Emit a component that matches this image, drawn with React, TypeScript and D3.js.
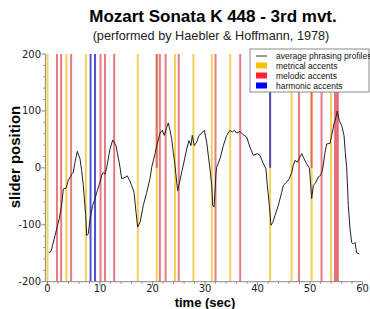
import React from "react";
import * as d3 from "d3";

const profileT = [0.23,0.67,1.43,2.25,2.76,3.01,3.52,3.96,4.61,4.91,5.24,5.68,6.19,6.51,6.82,7.28,7.47,7.77,8.10,8.61,9.05,9.49,10.0,10.32,10.63,10.95,11.28,11.90,12.42,13.05,13.30,13.81,14.13,14.76,15.20,15.58,16.04,16.48,16.86,17.18,17.62,18.25,18.90,19.52,19.85,20.48,20.80,21.43,21.87,22.25,22.70,23.01,23.33,23.66,23.96,24.29,24.61,24.80,25.10,25.43,25.87,26.51,26.95,27.33,27.58,27.96,28.42,28.86,29.37,29.87,30.32,30.63,30.95,31.28,31.47,31.71,31.90,32.10,32.23,32.86,33.49,34.13,34.76,35.20,35.58,36.04,36.67,37.30,37.94,38.57,39.20,39.96,40.48,40.99,41.62,41.87,42.25,42.57,42.90,43.33,43.96,44.61,44.91,45.56,46.06,46.51,46.82,47.14,47.58,48.10,48.42,48.86,49.37,49.87,50.0,50.32,50.63,51.14,51.58,52.04,52.42,52.86,53.18,53.81,54.13,54.57,54.95,55.20,55.58,56.04,56.48,56.72,56.99,57.30,57.62,57.94,58.25,58.57,58.88,59.39];
const profileV = [-149,-147,-119,-89,-60,-37,-36,-22,-11,-8,10,29,16,-5,-31,-84,-119,-116,-90,-66,-54,-40,-25,-13,-8,-11,1,33,49,39,27,1,-19,-17,-14,-21,-31,-43,-78,-104,-96,-66,-43,-19,1,25,38,61,66,57,71,79,66,51,27,4,-25,-40,-28,-13,5,33,48,39,57,39,45,57,61,66,45,22,-2,-31,-66,-69,-43,-8,1,16,39,57,66,63,66,61,64,58,54,36,22,25,22,10,-2,-31,-66,-101,-96,-84,-66,-43,-31,-25,-19,-8,4,13,10,19,25,16,7,0,-13,-54,-31,-25,-16,-13,-2,27,42,43,57,77,89,100,83,74,57,27,0,-66,-107,-131,-134,-131,-149,-151];

const metricalT = [0.0,3.6,7.3,17.2,20.8,24.3,27.8,31.3,34.8,42.4,46.5,50.3,54.0];
const melodicT = [1.8,2.6,4.5,10.1,10.95,12.7,20.8,21.4,22.5,25.0,32.0,36.7,47.9,50.3,52.2,54.75,55.05,55.3];
const harmonicT = [8.2,9.05,42.4];

const xTicks = [0,10,20,30,40,50,60];
const yTicks = [-200,-100,0,100,200];

const legendItems = ["average phrasing profiles","metrical accents","melodic accents","harmonic accents"];

export default function App() {
  const x = d3.scaleLinear().domain([-0.4, 60]).range([45.4, 362.5]);
  const y = d3.scaleLinear().domain([-200, 200]).range([281.7, 54]);
  const line = d3.line<number>().x((_, i) => x(profileT[i])).y((v) => y(v));
  const near = (a: number[], t: number) => a.some((m) => Math.abs(m - t) < 0.05);
  const xMinor = d3.range(0, 61, 2);
  const yMinor = d3.range(-200, 201, 20);
  const axisColor = "#8a8a8a";
  const yellow = "#f0cd45";
  const red = "#e03a48";
  const blue = "#3535c8";
  return (
    <svg width={370} height={309} style={{ position: "absolute", left: 0, top: 0, background: "#fff" }}>
      <text x={213} y={22} textAnchor="middle" fontFamily="Liberation Sans, Arial, sans-serif" fontWeight="bold" fontSize={17}>Mozart Sonata K 448 - 3rd mvt.</text>
      <text x={211} y={40} textAnchor="middle" fontFamily="Liberation Sans, Arial, sans-serif" fontSize={12.7} fill="#222">(performed by Haebler &amp; Hoffmann, 1978)</text>

      {metricalT.map((t, i) => (
        <line key={"m" + i} x1={x(t)} x2={x(t)} y1={y(200)} y2={y(-200)} stroke={yellow} strokeWidth={2} opacity={0.9} />
      ))}
      {melodicT.map((t, i) => (
        <line key={"r" + i} x1={x(t)} x2={x(t)} y1={y(200)} y2={near(metricalT, t) ? y(0) : y(-200)} stroke={red} strokeWidth={2} opacity={0.68} />
      ))}
      {harmonicT.map((t, i) => (
        <line key={"h" + i} x1={x(t)} x2={x(t)} y1={y(200)} y2={near(metricalT, t) ? y(0) : y(-200)} stroke={blue} strokeWidth={2} opacity={0.85} />
      ))}

      <path d={line(profileV) || ""} fill="none" stroke="#222" strokeWidth={1} />

      <line x1={x(-0.4)} x2={x(-0.4)} y1={y(200)} y2={y(-200)} stroke={axisColor} />
      <line x1={x(-0.4)} x2={x(60)} y1={y(-200)} y2={y(-200)} stroke={axisColor} />
      {yMinor.map((v) => (
        <line key={"ym" + v} x1={x(-0.4) - (v % 100 === 0 ? 4 : 2)} x2={x(-0.4)} y1={y(v)} y2={y(v)} stroke={axisColor} />
      ))}
      {xMinor.map((t) => (
        <line key={"xm" + t} x1={x(t)} x2={x(t)} y1={y(-200)} y2={y(-200) + (t % 10 === 0 ? 4 : 2)} stroke={axisColor} />
      ))}
      {yTicks.map((v) => (
        <text key={"yt" + v} x={41} y={y(v) + 3.5} textAnchor="end" fontFamily="DejaVu Sans, sans-serif" fontSize={10} fill="#222">{v}</text>
      ))}
      {xTicks.map((t) => (
        <text key={"xt" + t} x={x(t)} y={292} textAnchor="middle" fontFamily="DejaVu Sans, sans-serif" fontSize={10} fill="#222">{t}</text>
      ))}

      <text x={205} y={306.5} textAnchor="middle" fontFamily="Liberation Sans, Arial, sans-serif" fontWeight="bold" fontSize={13}>time (sec)</text>
      <text transform="translate(20,157) rotate(-90)" textAnchor="middle" fontFamily="Liberation Sans, Arial, sans-serif" fontWeight="bold" fontSize={15}>slider position</text>

      <rect x={250} y={49} width={119} height={43} fill="#fff" stroke={axisColor} />
      <line x1={256} x2={267} y1={56} y2={56} stroke="#333" />
      <rect x={256} y={62.5} width={11} height={6} fill="#ffc000" />
      <rect x={256} y={72.5} width={11} height={6} fill="#ff2030" />
      <rect x={256} y={82.5} width={11} height={6} fill="#0000ff" />
      {legendItems.map((s, i) => (
        <text key={s} x={276} y={59 + i * 10} fontFamily="Liberation Sans, Arial, sans-serif" fontSize={8.5} fill="#111">{s}</text>
      ))}
    </svg>
  );
}
